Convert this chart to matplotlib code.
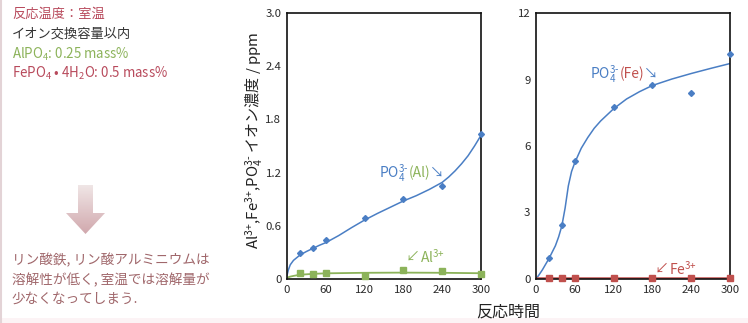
import matplotlib
matplotlib.use("Agg")
import matplotlib.pyplot as plt
from matplotlib import font_manager
from matplotlib.patches import Polygon, Rectangle
import numpy as np

# ---------------- data ----------------
times = [20, 40, 60, 120, 180, 240, 300]
po4_al = [0.29, 0.346, 0.44, 0.69, 0.90, 1.05, 1.64]
al3 = [0.064, 0.056, 0.068, 0.034, 0.098, 0.090, 0.062]
po4_fe = [0.96, 2.44, 5.32, 7.77, 8.77, 8.40, 10.13]
fe3 = [0.03, 0.03, 0.03, 0.03, 0.03, 0.03, 0.03]

# trend curves
po4_al_fit_t = [0, 2, 5, 10, 20, 30, 40, 50, 60, 80, 100, 120, 140, 160, 180,
                200, 220, 240, 250, 260, 270, 280, 290, 300]
po4_al_fit_v = [0.04, 0.10, 0.16, 0.21, 0.27, 0.31, 0.345, 0.38, 0.41, 0.49,
                0.58, 0.665, 0.74, 0.81, 0.88, 0.94, 1.01, 1.09, 1.15, 1.22,
                1.30, 1.39, 1.50, 1.62]
al3_fit_t = [0, 5, 10, 20, 40, 60, 120, 180, 240, 300]
al3_fit_v = [0.015, 0.027, 0.035, 0.048, 0.058, 0.064, 0.070, 0.072, 0.070, 0.065]
po4_fe_fit_t = [0, 5, 10, 20, 30, 35, 40, 45, 50, 55, 60, 70, 80, 90, 100, 120,
                140, 160, 180, 210, 240, 270, 300]
po4_fe_fit_v = [0, 0.2, 0.42, 0.92, 1.5, 1.9, 2.4, 3.2, 4.2, 4.85, 5.25, 5.9,
                6.38, 6.8, 7.13, 7.68, 8.12, 8.45, 8.73, 9.02, 9.27, 9.5, 9.72]
fe3_fit_t = [0, 300]
fe3_fit_v = [0.03, 0.03]

x_ticks = [0, 60, 120, 180, 240, 300]
y1_ticks = [0, 0.6, 1.2, 1.8, 2.4, 3.0]
y1_labels = ["0", "0.6", "1.2", "1.8", "2.4", "3.0"]
y2_ticks = [0, 3, 6, 9, 12]
y2_labels = ["0", "3", "6", "9", "12"]

# ---------------- style ----------------
BLUE = "#4a7ec4"
GREEN = "#8cb35a"
RED = "#c0504d"
TXT_RED = "#b84a5c"
TXT_BROWN = "#a0676b"
DARK = "#333333"

CJK = "Noto Sans CJK JP"
names = {f.name for f in font_manager.fontManager.ttflist}
TICKFONT = "Liberation Sans Narrow" if "Liberation Sans Narrow" in names else CJK

plt.rcParams["font.family"] = [CJK, "DejaVu Sans"]
plt.rcParams["mathtext.fontset"] = "custom"
plt.rcParams["mathtext.rm"] = CJK
plt.rcParams["mathtext.it"] = CJK
plt.rcParams["mathtext.bf"] = CJK
plt.rcParams["mathtext.sf"] = CJK
plt.rcParams["mathtext.default"] = "regular"

W, H = 748, 323
fig = plt.figure(figsize=(W / 100, H / 100), dpi=100)
fig.patch.set_facecolor("white")

# background axes in pixel coordinates
bg = fig.add_axes([0, 0, 1, 1], zorder=-1)
bg.set_xlim(0, W)
bg.set_ylim(H, 0)
bg.axis("off")


def px_axes(l, t, r, b):
    return fig.add_axes([l / W, 1 - b / H, (r - l) / W, (b - t) / H])


ax1 = px_axes(287, 13, 481, 279)
ax2 = px_axes(536, 13, 730, 279)

# overlay axes for annotations drawn on top of the charts
ov = fig.add_axes([0, 0, 1, 1], zorder=10)
ov.set_xlim(0, W)
ov.set_ylim(H, 0)
ov.axis("off")
ov.patch.set_alpha(0)

for ax, yt, yl, ymax in [(ax1, y1_ticks, y1_labels, 3.0), (ax2, y2_ticks, y2_labels, 12)]:
    ax.set_xlim(0, 300)
    ax.set_ylim(0, ymax)
    ax.set_xticks(x_ticks)
    ax.set_xticklabels([str(v) for v in x_ticks], fontfamily=TICKFONT, fontsize=8.2, color="#2a2a2a")
    ax.set_yticks(yt)
    ax.set_yticklabels(yl, fontfamily=TICKFONT, fontsize=8.2, color="#2a2a2a")
    ax.tick_params(length=0, pad=4)
    for s in ax.spines.values():
        s.set_linewidth(1.2)
        s.set_color("#111111")
    ax.set_facecolor("white")

# left panel
ax1.plot(po4_al_fit_t, po4_al_fit_v, color=BLUE, lw=1.1, zorder=2)
ax1.plot(al3_fit_t, al3_fit_v, color=GREEN, lw=1.3, zorder=2)
ax1.plot(times, po4_al, "D", color=BLUE, ms=3, zorder=3, clip_on=False)
ax1.plot(times, al3, "s", color=GREEN, ms=5, zorder=3, clip_on=False)

# right panel
ax2.plot(po4_fe_fit_t, po4_fe_fit_v, color=BLUE, lw=1.1, zorder=2)
ax2.plot(fe3_fit_t, fe3_fit_v, color=RED, lw=1.8, zorder=2)
ax2.plot(times, po4_fe, "D", color=BLUE, ms=3, zorder=3, clip_on=False)
ax2.plot(times, fe3, "s", color=RED, ms=4.5, zorder=3, clip_on=False)

renderer = fig.canvas.get_renderer()


def pieces(x, y, parts, size, ax=ov):
    """Draw sequential coloured text pieces starting at pixel x, centre y."""
    for txt, col in parts:
        t = ax.text(x, y, txt, color=col, fontsize=size, va="center", ha="left",
                    fontfamily=[CJK, "DejaVu Sans"])
        bb = t.get_window_extent(renderer)
        x += bb.width


SUP3P = r"$^{\text{3+}}$"
PO4 = r"PO$_4^{\text{3-}}$"

# annotations inside charts
pieces(379, 173, [(PO4, BLUE), ("(Al)", GREEN), ("↘", BLUE)], 10)
pieces(406, 257, [("↙", GREEN), ("Al" + SUP3P, GREEN)], 10)
pieces(590, 74, [(PO4, BLUE), ("(Fe)", RED), ("↘", BLUE)], 10)
pieces(655, 269, [("↙", RED), ("Fe" + SUP3P, RED)], 10)

# axis labels
bg.text(254, 140, "Al" + SUP3P + ",Fe" + SUP3P + "," + PO4 + " イオン濃度 / ppm", rotation=90,
        ha="center", va="center", fontsize=10.8, color="#222222")
bg.text(508, 312, "反応時間", ha="center", va="center", fontsize=11.5, color="#222222")

# left-hand notes
bg.text(12, 14, "反応温度：室温", color=TXT_RED, fontsize=9.5, va="center")
bg.text(12, 34, "イオン交換容量以内", color=DARK, fontsize=9.5, va="center")
bg.text(12, 54, r"AlPO$_4$: 0.25 mass%", color=GREEN, fontsize=9.6, va="center")
bg.text(12, 73, r"FePO$_4$ • 4H$_2$O: 0.5 mass%", color=TXT_RED, fontsize=9.6, va="center")

bg.text(12, 260, "リン酸鉄, リン酸アルミニウムは", color=TXT_BROWN, fontsize=9.8, va="center")
bg.text(12, 280, "溶解性が低く, 室温では溶解量が", color=TXT_BROWN, fontsize=9.8, va="center")
bg.text(12, 299, "少なくなってしまう.", color=TXT_BROWN, fontsize=9.8, va="center")

# gradient arrow
arrow_xy = [(78, 185), (93, 185), (93, 213), (105, 213), (85.5, 234), (66, 213), (78, 213)]
poly = Polygon(arrow_xy, closed=True, facecolor="none", edgecolor="none")
bg.add_patch(poly)
grad = np.linspace(0, 1, 64).reshape(-1, 1)
top = np.array([0.94, 0.90, 0.90])
bot = np.array([0.82, 0.66, 0.68])
img = top[None, None, :] * (1 - grad[:, :, None]) + bot[None, None, :] * grad[:, :, None]
im = bg.imshow(img, extent=(66, 105, 234, 185), aspect="auto", interpolation="bilinear")
im.set_clip_path(poly)
bg.set_xlim(0, W)
bg.set_ylim(H, 0)

# frame decoration
bg.plot([1.5, 1.5], [0, H], color="#e3d3d6", lw=1.5)
bg.add_patch(Rectangle((0, 318), W, 5, facecolor="#fcf3f5", edgecolor="none"))

fig.savefig("out.png", dpi=100)
